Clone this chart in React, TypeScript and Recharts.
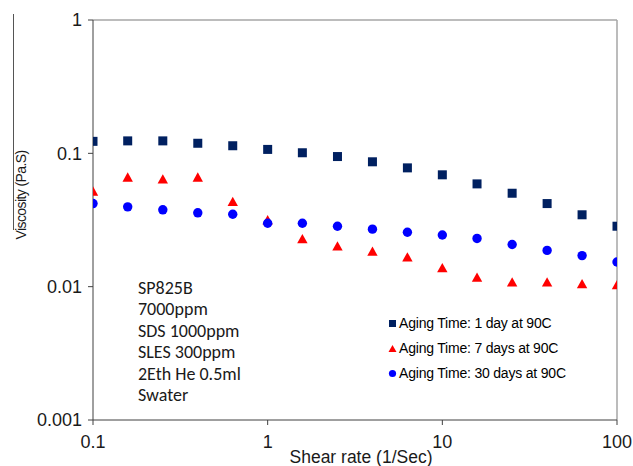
import { Label, Legend, ReferenceLine, Scatter, ScatterChart, XAxis, YAxis } from 'recharts'

// shear rate (1/Sec), 5 points per decade
const shearRate = [0.1, 0.158, 0.251, 0.398, 0.631, 1, 1.58, 2.51, 3.98, 6.31, 10, 15.8, 25.1, 39.8, 63.1, 100]
const day1 = [0.123, 0.124, 0.124, 0.119, 0.114, 0.107, 0.101, 0.0946, 0.0864, 0.0778, 0.069, 0.059, 0.0502, 0.042, 0.0346, 0.0284]
const day7 = [0.0514, 0.0655, 0.0633, 0.0655, 0.043, 0.0313, 0.0226, 0.0199, 0.0182, 0.0165, 0.0137, 0.0116, 0.0107, 0.0107, 0.0104, 0.0102]
const day30 = [0.042, 0.0397, 0.0377, 0.0358, 0.0349, 0.0299, 0.0299, 0.0284, 0.027, 0.0256, 0.0244, 0.023, 0.0207, 0.0187, 0.0171, 0.0153]

const xTicks = [0.1, 1, 10, 100]
const yTicks = [0.001, 0.01, 0.1, 1]
const seriesNames = ['Aging Time: 1 day at 90C', 'Aging Time: 7 days at 90C', 'Aging Time: 30 days at 90C']
const noteLines = ['SP825B', '7000ppm', 'SDS 1000ppm', 'SLES 300ppm', '2Eth He 0.5ml', 'Swater']

const toPoints = (ys: number[]) => shearRate.map((x, i) => ({ x, y: ys[i] }))

const NAVY = '#002060'
const RED = '#FF0000'
const BLUE = '#0000FF'
const AXIS = '#404040'
const BORDER = '#A6A6A6'
const FONT = '"Liberation Sans", Arial, sans-serif'

const Square = ({ cx, cy }: any) => <rect x={cx - 4.5} y={cy - 4.5} width={9} height={9} fill={NAVY} />
const Tri = ({ cx, cy }: any) => <path d={`M${cx},${cy - 5.5}L${cx + 5.2},${cy + 3.8}L${cx - 5.2},${cy + 3.8}Z`} fill={RED} />
const Dot = ({ cx, cy }: any) => <circle cx={cx} cy={cy} r={4.7} fill={BLUE} />

function LegendBox({ payload }: any) {
  const items = [...(payload || [])].sort((a: any, b: any) => seriesNames.indexOf(a.value) - seriesNames.indexOf(b.value))
  return (
    <div style={{ fontFamily: FONT, fontSize: 14, letterSpacing: -0.2, color: '#000' }}>
      {items.map((p: any) => (
        <div key={p.value} style={{ height: 25, lineHeight: '25px', whiteSpace: 'nowrap' }}>
          <svg width={9} height={9} style={{ marginRight: 2, verticalAlign: 'middle' }}>
            {p.type === 'square' && <rect x={1} y={1} width={7} height={7} fill={p.color} />}
            {p.type === 'triangle' && <path d="M4.5,1L8.5,8L0.5,8Z" fill={p.color} />}
            {p.type === 'circle' && <circle cx={4.5} cy={4.5} r={3.6} fill={p.color} />}
          </svg>
          <span style={{ verticalAlign: 'middle' }}>{p.value}</span>
        </div>
      ))}
    </div>
  )
}

export default function App() {
  return (
    <div style={{ position: 'absolute', left: 0, top: 0, width: 633, height: 466, background: '#fff' }}>
      <div style={{ position: 'absolute', left: 13, top: 14, width: 1, height: 216, background: '#555' }} />
      <ScatterChart width={633} height={466} margin={{ top: 20, right: 16, bottom: 0, left: 0 }}>
        <XAxis
          type="number"
          dataKey="x"
          scale="log"
          domain={[0.1, 100]}
          ticks={xTicks}
          allowDataOverflow
          height={46}
          stroke={AXIS}
          tickSize={5}
          tickMargin={10}
          tick={{ fill: '#1a1a1a', fontSize: 18, fontFamily: FONT }}
        >
          <Label
            content={() => (
              <text x={361} y={463} textAnchor="middle" fill="#1a1a1a" fontSize={17.5} fontFamily={FONT}>
                Shear rate (1/Sec)
              </text>
            )}
          />
        </XAxis>
        <YAxis
          type="number"
          dataKey="y"
          scale="log"
          domain={[0.001, 1]}
          ticks={yTicks}
          allowDataOverflow
          width={93}
          stroke={AXIS}
          tickSize={5}
          tickMargin={6}
          tick={{ fill: '#1a1a1a', fontSize: 18, fontFamily: FONT }}
        >
          <Label
            content={() => (
              <text
                transform="translate(21,195) rotate(-90)"
                textAnchor="middle"
                dominantBaseline="central"
                fill="#1a1a1a"
                fontSize={14}
                letterSpacing={-0.6}
                fontFamily={FONT}
              >
                Viscosity (Pa.S)
              </text>
            )}
          />
        </YAxis>
        <ReferenceLine y={1} stroke={BORDER} strokeWidth={1.5} />
        <ReferenceLine x={100} stroke={BORDER} strokeWidth={1.5} />
        <Legend
          layout="vertical"
          align="center"
          verticalAlign="middle"
          wrapperStyle={{ position: 'absolute', left: 388, top: 310, width: 230 }}
          content={LegendBox}
        />
        <Scatter name={seriesNames[0]} data={toPoints(day1)} fill={NAVY} legendType="square" shape={Square} isAnimationActive={false} />
        <Scatter name={seriesNames[1]} data={toPoints(day7)} fill={RED} legendType="triangle" shape={Tri} isAnimationActive={false} />
        <Scatter name={seriesNames[2]} data={toPoints(day30)} fill={BLUE} legendType="circle" shape={Dot} isAnimationActive={false} />
      </ScatterChart>
      <div style={{ position: 'absolute', left: 138, top: 278, fontFamily: 'Carlito, Lato, sans-serif', fontSize: 18, lineHeight: '21.4px', color: '#1a1a1a' }}>
        {noteLines.map((l) => (
          <div key={l}>{l}</div>
        ))}
      </div>
    </div>
  )
}
